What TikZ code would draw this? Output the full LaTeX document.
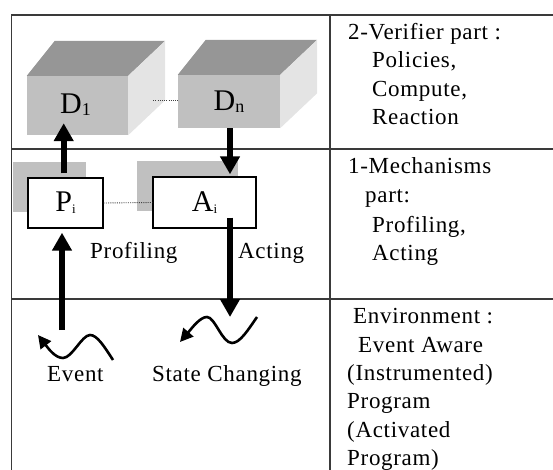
\documentclass[tikz,border=0pt]{standalone}
\usepackage{fontspec}
\setmainfont{Liberation Serif}[LetterSpace=3]
\usetikzlibrary{arrows.meta,calc}
\definecolor{frontgray}{HTML}{C0C0C0}
\definecolor{topgray}{HTML}{969696}
\definecolor{sidegray}{HTML}{E4E4E4}
\definecolor{shadowgray}{HTML}{C0C0C0}
\definecolor{rulegray}{HTML}{3A3A3A}
\tikzset{
  rule/.style={draw=rulegray,line width=1.3pt},
  front/.style={fill=frontgray,draw=none,minimum width=#1,inner sep=0pt},
  mechbox/.style={draw=black,fill=white,line width=1.4pt,inner sep=0pt},
  shadowbox/.style={fill=shadowgray,draw=none},
  boxlabel/.style={font=\fontsize{30}{32}\selectfont},
  txt/.style={anchor=base west,inner sep=0pt,font=\fontsize{23}{28}\selectfont},
  bigarrow/.style={line width=6pt,-{Triangle[width=19pt,length=18pt]}},
  wave/.style={line width=2.6pt,-{Triangle[width=13pt,length=13pt]}},
  dotline/.style={draw=black!75,line width=0.9pt,dash pattern=on 1pt off 1.2pt},
}
\newcommand{\smallsub}[2]{{\fontsize{#1}{#1}\selectfont\raisebox{-2pt}{#2}}}
\begin{document}
\begin{tikzpicture}[x=1pt,y=-1pt]
\useasboundingbox (0,0) rectangle (553,470);

% table rules
\draw[rule] (11.7,470) -- (11.7,15) -- (553,15);
\draw[rule] (11.7,149) -- (553,149);
\draw[rule] (11.7,299) -- (553,299);
\draw[rule] (330,15) -- (330,470);

% 3D boxes D1 and Dn (front faces as nodes)
\node[front=101pt,minimum height=59pt] (D1) at (77.5,105.5) {};
\node[front=102pt,minimum height=53pt] (Dn) at (229,101.5) {};
\foreach \b in {D1,Dn}{
  \fill[topgray] (\b.north west) -- ++(28,-35) -- ([shift={(37,-35)}]\b.north east) -- (\b.north east) -- cycle;
  \fill[sidegray] (\b.north east) -- ([shift={(37,-35)}]\b.north east) -- ([shift={(37,-35)}]\b.south east) -- (\b.south east) -- cycle;
}
\node[boxlabel] (D1lab) at ($(D1.center)+(-2,-1)$) {D\smallsub{18}{1}};
\node[boxlabel] (Dnlab) at ($(Dn.center)+(0,0)$) {D\smallsub{18}{n}};
\draw[dotline] ([xshift=25pt,yshift=5.5pt]D1.east) -- ([yshift=1.5pt]Dn.west);

% mechanism boxes with shadows
\fill[shadowgray] (12.5,162) rectangle (86,212);
\fill[shadowgray] (137,161) rectangle (238,211);
\node[mechbox,minimum width=75pt,minimum height=50pt] (P) at (65.5,203) {};
\node[mechbox,minimum width=103pt,minimum height=51pt] (A) at (204.5,202.5) {};
\node[boxlabel] (Plab) at (P.center) {P\smallsub{13}{i}};
\node[boxlabel] (Alab) at (A.center) {A\smallsub{13}{i}};
\draw[dotline] (P.east) -- (A.west);

% labels
\node[txt] (prof) at (90,258) {Profiling};
\node[txt] (act) at (238,258) {Acting};
\node[txt] (ev) at (47,381) {Event};
\node[txt] (sc) at (152,381) {State Changing};

% big arrows
\draw[bigarrow] ([xshift=-1.8pt,yshift=4pt]P.north) -- ($(P.north |- D1.south)+(-1.8,-12)$);
\draw[bigarrow] ([xshift=1pt]Dn.south) -- ($(Dn.south |- A.north)+(1,-2)$);
\coordinate (evsrc) at (62,330);
\draw[bigarrow] (evsrc) -- ($(P.south -| evsrc)+(0,4)$);
\coordinate (sttip) at (230,317);
\draw[bigarrow] ($(A.south)+(25.5,-11)$) -- (sttip);

% waves
\coordinate (evw) at (113,360);
\coordinate (stw) at (257,317);
\draw[wave] (evw) .. controls (104,346) and (97,335) .. (90,335)
  .. controls (82,335) and (72,358) .. (63,358)
  .. controls (55,358) and (48,348) .. (38,335);
\draw[wave] (stw) .. controls (248,330) and (240,343) .. (232,343)
  .. controls (222,343) and (215,317) .. (207,317)
  .. controls (200,317) and (192,328) .. (180,342);

% right column
\node[txt] (r1a) at (348,40) {2-Verifier part :};
\node[txt] (r1b) at (372,68) {Policies,};
\node[txt] (r1c) at (372,97) {Compute,};
\node[txt] (r1d) at (372,125) {Reaction};
\node[txt] (r2a) at (348,174) {1-Mechanisms};
\node[txt] (r2b) at (365,203) {part:};
\node[txt] (r2c) at (372,232) {Profiling,};
\node[txt] (r2d) at (372,260) {Acting};
\node[txt] (r3a) at (353,323) {Environment :};
\node[txt] (r3b) at (358,352) {Event Aware};
\node[txt] (r3c) at (347,380) {(Instrumented)};
\node[txt] (r3d) at (347,408) {Program};
\node[txt] (r3e) at (347,437) {(Activated};
\node[txt] (r3f) at (347,465) {Program)};
\end{tikzpicture}
\end{document}
